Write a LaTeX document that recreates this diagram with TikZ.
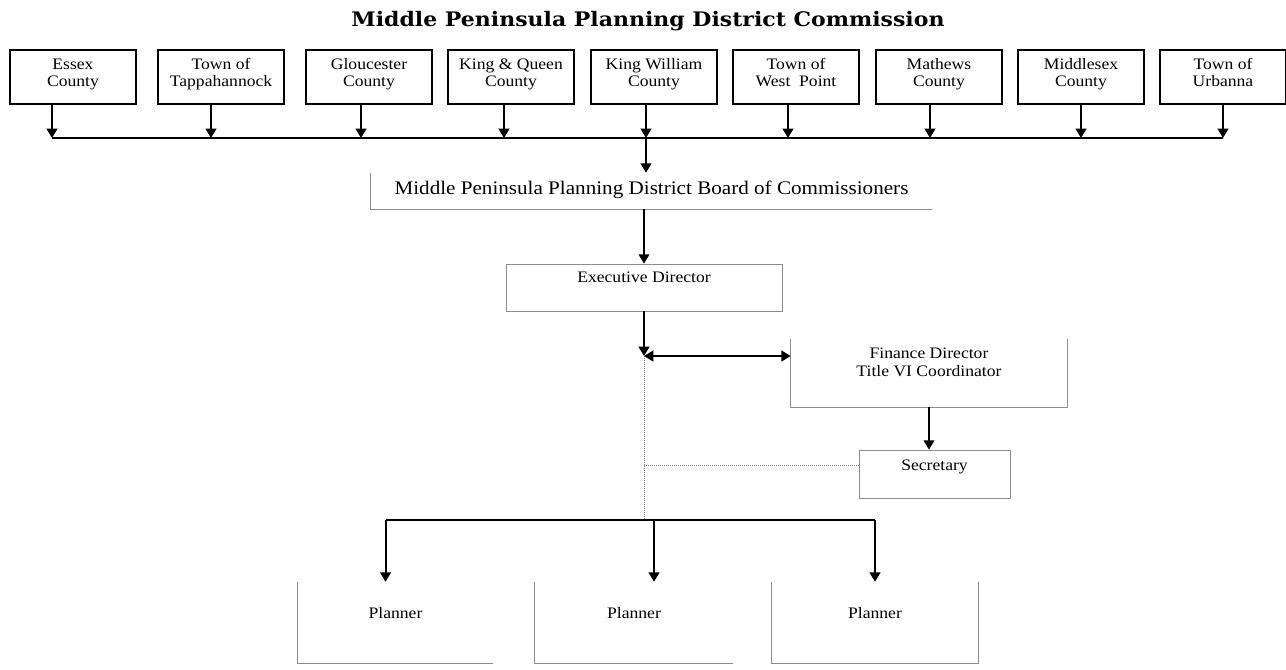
\documentclass[tikz,border=0pt]{standalone}
\usepackage{fontspec}
\setmainfont{Liberation Serif}[FakeStretch=1.1]
\newfontfamily\headfont{DejaVu Serif}[FakeStretch=1.1]
\usetikzlibrary{arrows.meta}

\begin{document}
\begin{tikzpicture}[x=0.75pt,y=-0.75pt,
  unit/.style={draw,line width=1.5pt,minimum width=94.5pt,minimum height=40.5pt,align=center,
    font=\fontsize{12}{12.75}\selectfont,text depth=6.75pt},
  post/.style={align=center,font=\fontsize{12}{13.5}\selectfont},
  frame/.style={draw=black!45,line width=0.6pt},
  arr/.style={line width=1.5pt,-{Triangle[length=7pt,width=8pt]}},
  dots/.style={draw=black!50,line width=0.5pt,densely dotted}]
  \useasboundingbox (0,0) rectangle (1286,669);
  \node[anchor=base,font=\headfont\bfseries\fontsize{15}{17}\selectfont] (title) at (648,26.5)
    {Middle Peninsula Planning District Commission};
  \node[unit] (essex) at (73,77) {Essex\\County};
  \node[unit] (tappahannock) at (221,77) {Town of\\Tappahannock};
  \node[unit] (gloucester) at (369,77) {Gloucester\\County};
  \node[unit] (kingqueen) at (511,77) {King \& Queen\\County};
  \node[unit] (kingwilliam) at (654,77) {King William\\County};
  \node[unit] (westpoint) at (796,77) {Town of\\West~ Point};
  \node[unit] (mathews) at (939,77) {Mathews\\County};
  \node[unit] (middlesex) at (1081,77) {Middlesex\\County};
  \node[unit] (urbanna) at (1223,77) {Town of\\Urbanna};
  \coordinate (bus) at (646,138);
  \foreach \n/\dx in {essex/-15.75,tappahannock/-7.5,gloucester/-6,kingqueen/-5.25,kingwilliam/-6,
    westpoint/-6,mathews/-6.75,middlesex/0,urbanna/0}{
    \path ([xshift=\dx pt]\n.south) coordinate (t\n);
    \draw[arr] (t\n) -- (t\n |- bus);
  }
  \draw[line width=1.1pt] (tessex |- bus) -- (turbanna |- bus);

  \node[post,font=\fontsize{14.4}{17}\selectfont,minimum width=420.75pt,minimum height=27pt,
    text depth=4.5pt] (board) at (651.5,191) {Middle Peninsula Planning District Board of Commissioners};
  \draw[frame] (board.north west) |- (board.south east);
  \draw[arr] (bus) -- (bus |- board.north);

  \node[post,frame,minimum width=207pt,minimum height=35.25pt,text depth=15.75pt] (exec) at (644,287.5)
    {Executive Director};
  \draw[arr] (board.south -| exec.north) -- (exec.north);
  \coordinate (hub) at (644,356);
  \draw[arr] (exec.south) -- (hub);

  \node[post,minimum width=207pt,minimum height=51pt,text depth=16.5pt] (finance) at (929,373)
    {Finance Director\\Title VI Coordinator};
  \draw[frame] (finance.north west) |- (finance.south east) -- (finance.north east);
  \draw[arr,{Triangle[length=7pt,width=8pt]}-{Triangle[length=7pt,width=8pt]}] (hub) -- (hub -| finance.west);

  \node[post,frame,minimum width=113.25pt,minimum height=36pt,text depth=13.5pt] (secretary) at (934.5,474)
    {Secretary};
  \draw[arr] (finance.south) -- (finance.south |- secretary.north);

  \coordinate (pbus) at (644,520);
  \draw[dots] (hub) -- (pbus);
  \path ([yshift=6.75pt]secretary.west) coordinate (sec);
  \draw[dots] (sec) -- (sec -| hub);

  \node[post,minimum width=146.25pt,minimum height=60.75pt,text depth=14.25pt] (planA) at (395.5,622.5) {Planner};
  \node[post,minimum width=148.5pt,minimum height=60.75pt,text depth=14.25pt] (planB) at (634,622.5) {Planner};
  \node[post,minimum width=154.5pt,minimum height=60.75pt,text depth=14.25pt] (planC) at (875,622.5) {Planner};
  \draw[frame] (planA.north west) |- (planA.south east);
  \draw[frame] (planB.north west) |- (planB.south east);
  \draw[frame] (planC.north west) |- (planC.south east) -- (planC.north east);
  \foreach \n/\dx in {planA/-7.5,planB/15,planC/0}{
    \path ([xshift=\dx pt]\n.north) coordinate (t\n);
    \draw[arr] (t\n |- pbus) -- (t\n);
  }
  \draw[line width=1.5pt] (tplanA |- pbus) -- (tplanC |- pbus);
\end{tikzpicture}
\end{document}
